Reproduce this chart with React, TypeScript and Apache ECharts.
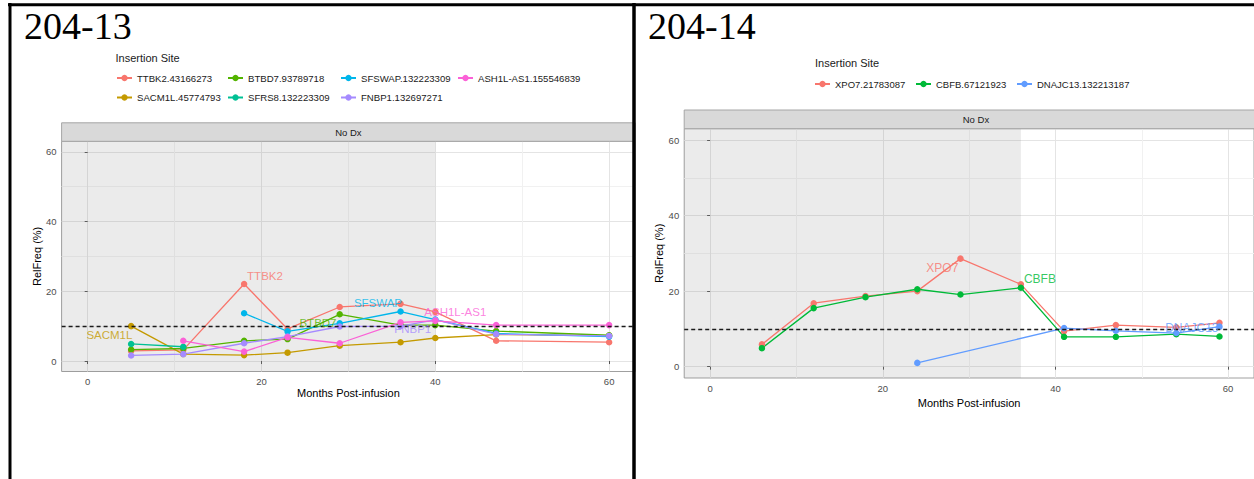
import React, { useEffect, useRef } from "react";
import * as echarts from "echarts";

const FONT = "'Liberation Sans', Arial, Helvetica, sans-serif";
const SERIF = "'Liberation Serif', 'Times New Roman', serif";

// ---------- Panel 204-13 ----------
const genes13 = [
  "TTBK2.43166273",
  "SACM1L.45774793",
  "BTBD7.93789718",
  "SFRS8.132223309",
  "SFSWAP.132223309",
  "FNBP1.132697271",
  "ASH1L-AS1.155546839",
];
const colors13 = ["#F8766D", "#C49A00", "#53B400", "#00C094", "#00B6EB", "#A58AFF", "#FB61D7"];
const months13 = [5, 11, 18, 23, 29, 36, 40, 47, 60];
const ttbk2_13 = [2.9, 3.2, 22.1, 9.2, 15.5, 16.4, 14.1, 5.8, 5.4];
const sacm1l_13 = [10.0, 2.0, 1.7, 2.4, 4.4, 5.4, 6.6, 7.6, 7.3];
const btbd7_13 = [3.3, 3.6, 5.8, 6.3, 13.4, 10.3, 10.3, 8.6, 7.4];
const sfrs8_13 = [4.9, 4.1, null, null, null, null, null, null, null];
const sfswap_13 = [null, null, 13.7, 8.5, 10.8, 14.2, 11.9, 7.9, 7.0];
const fnbp1_13 = [1.6, 2.0, 5.1, 7.0, 9.9, 10.0, 11.8, 7.7, 7.2];
const ash1l_13 = [null, 5.8, 2.7, 6.8, 5.1, 11.1, 11.5, 10.3, 10.3];
const values13 = [ttbk2_13, sacm1l_13, btbd7_13, sfrs8_13, sfswap_13, fnbp1_13, ash1l_13];

const labelText13 = ["TTBK2", "SACM1L", "BTBD7", "SFSWAP", "ASH1L-AS1", "FNBP1"];
const labelGene13 = [0, 1, 2, 4, 6, 5];
const labelX13 = [20.4, 2.5, 26.5, 33.4, 42.3, 37.4];
const labelY13 = [24.4, 7.5, 11.0, 16.7, 14.1, 9.1];
const shadeEnd13 = 40;

// ---------- Panel 204-14 ----------
const genes14 = ["XPO7.21783087", "CBFB.67121923", "DNAJC13.132213187"];
const colors14 = ["#F8766D", "#00BA38", "#619CFF"];
const months14 = [6, 12, 18, 24, 29, 36, 41, 47, 54, 59];
const xpo7_14 = [5.9, 16.8, 18.7, 20.0, 28.6, 21.8, 9.4, 11.0, 10.4, 11.6];
const cbfb_14 = [4.9, 15.5, 18.4, 20.5, 19.1, 20.9, 7.9, 7.9, 8.6, 8.0];
const dnajc13_14 = [null, null, null, 1.0, null, null, 10.2, 9.5, 8.9, 10.6];
const values14 = [xpo7_14, cbfb_14, dnajc13_14];

const labelText14 = ["XPO7", "CBFB", "DNAJC13"];
const labelGene14 = [0, 1, 2];
const labelX14 = [26.9, 38.2, 55.8];
const labelY14 = [26.1, 23.2, 10.3];
const shadeEnd14 = 36;

// ---------- shared axis values ----------
const majorTicks = [0, 20, 40, 60];
const gridTicks = [0, 10, 20, 30, 40, 50, 60];
const axisMin = -3;
const axisMax = 63;
const threshold = 10;

// ---------- layout (pixels) ----------
const grids = [
  { left: 61.6, top: 141.3, width: 573.6, height: 230.2 },
  { left: 684.2, top: 128.7, width: 583.5, height: 249.3 },
];
const legendPos13 = [
  [116, 72], [116, 91.5], [227, 72], [227, 91.5], [340, 72], [340, 91.5], [457, 72],
];
const legendPos14 = [[814, 78], [915, 78], [1016, 78]];

function pairs(months: number[], vals: (number | null)[]) {
  const out: number[][] = [];
  months.forEach((m, i) => {
    const v = vals[i];
    if (v !== null && v !== undefined) out.push([m, v]);
  });
  return out;
}

function xAxesFor(gridIndex: number, nameGap: number) {
  return [
    {
      type: "value",
      gridIndex,
      min: axisMin,
      max: axisMax,
      position: "bottom",
      name: "Months Post-infusion",
      nameLocation: "middle",
      nameGap,
      nameTextStyle: { color: "#000", fontSize: 11, fontFamily: FONT },
      axisLine: { show: false },
      axisTick: { show: false, customValues: gridTicks },
      axisLabel: { customValues: majorTicks, margin: 5, color: "#4d4d4d", fontSize: 9.5, fontFamily: FONT },
      splitLine: { show: true, lineStyle: { color: ["#e4e4e4", "#f1f1f1"], width: 1 } },
    },
    {
      type: "value",
      gridIndex,
      min: axisMin,
      max: axisMax,
      position: "bottom",
      axisLine: { show: false },
      axisTick: { show: true, customValues: majorTicks, length: 3, lineStyle: { color: "#555", width: 1 } },
      axisLabel: { show: false },
      splitLine: { show: false },
    },
  ];
}

function yAxesFor(gridIndex: number, nameGap: number) {
  return [
    {
      type: "value",
      gridIndex,
      min: axisMin,
      max: axisMax,
      position: "left",
      name: "RelFreq (%)",
      nameLocation: "middle",
      nameGap,
      nameRotate: 90,
      nameTextStyle: { color: "#000", fontSize: 11, fontFamily: FONT },
      axisLine: { show: false },
      axisTick: { show: false, customValues: gridTicks },
      axisLabel: { customValues: majorTicks, margin: 5, color: "#4d4d4d", fontSize: 9.5, fontFamily: FONT },
      splitLine: { show: true, lineStyle: { color: ["#e4e4e4", "#f1f1f1"], width: 1 } },
    },
    {
      type: "value",
      gridIndex,
      min: axisMin,
      max: axisMax,
      position: "left",
      axisLine: { show: false },
      axisTick: { show: true, customValues: majorTicks, length: 3, lineStyle: { color: "#555", width: 1 } },
      axisLabel: { show: false },
      splitLine: { show: false },
    },
  ];
}

function panelSeries(
  genes: string[],
  colors: string[],
  months: number[],
  values: (number | null)[][],
  axisIndex: number,
  shadeEnd: number
) {
  return genes.map((g, i) => {
    const s: any = {
      type: "line",
      name: g,
      xAxisIndex: axisIndex,
      yAxisIndex: axisIndex,
      data: pairs(months, values[i]),
      symbol: "circle",
      symbolSize: 6.5,
      itemStyle: { color: colors[i] },
      lineStyle: { color: colors[i], width: 1.3 },
      silent: true,
      z: 3,
    };
    if (i === 0) {
      s.markArea = {
        silent: true,
        itemStyle: { color: "rgba(128,128,128,0.16)" },
        data: [[{ xAxis: axisMin }, { xAxis: shadeEnd }]],
      };
      s.markLine = {
        silent: true,
        symbol: "none",
        label: { show: false },
        lineStyle: { color: "#1a1a1a", type: [4, 3], width: 1.3 },
        data: [{ yAxis: threshold }],
      };
    }
    return s;
  });
}

function labelSeries(
  texts: string[],
  geneIdx: number[],
  xs: number[],
  ys: number[],
  colors: string[],
  axisIndex: number,
  fontSize: number
) {
  return {
    type: "scatter",
    xAxisIndex: axisIndex,
    yAxisIndex: axisIndex,
    symbolSize: 0,
    silent: true,
    z: 5,
    itemStyle: { color: "rgba(0,0,0,0)" },
    label: {
      show: true,
      position: "inside",
      formatter: (p: any) => p.name,
      fontSize,
      fontFamily: FONT,
    },
    data: texts.map((t, i) => ({
      name: t,
      value: [xs[i], ys[i]],
      label: { color: colors[geneIdx[i]] },
    })),
  };
}

function legends(genes: string[], pos: number[][], fontSize: number) {
  return genes.map((g, i) => ({
    data: [g],
    left: pos[i][0],
    top: pos[i][1],
    orient: "horizontal",
    padding: 0,
    itemWidth: 15,
    itemHeight: 8,
    selectedMode: false,
    textStyle: { fontSize, color: "#1a1a1a", fontFamily: FONT, lineHeight: 12 },
  }));
}

function stripGraphic(g: { left: number; top: number; width: number }, stripTop: number) {
  return [
    {
      type: "rect",
      shape: { x: g.left, y: stripTop, width: g.width, height: g.top - stripTop },
      style: { fill: "#d9d9d9", stroke: "#a6a6a6", lineWidth: 1 },
      z: 10,
    },
    {
      type: "text",
      x: g.left + g.width / 2,
      y: (stripTop + g.top) / 2,
      style: {
        text: "No Dx",
        fill: "#1a1a1a",
        font: `9.5px ${FONT}`,
        textAlign: "center",
        textVerticalAlign: "middle",
      },
      z: 11,
    },
  ];
}

export default function App() {
  const ref = useRef<HTMLDivElement>(null);
  useEffect(() => {
    if (!ref.current) return;
    const chart = echarts.init(ref.current, undefined, { renderer: "svg" });
    const option: any = {
      animation: false,
      textStyle: { fontFamily: FONT },
      grid: grids.map((g) => ({
        ...g,
        show: true,
        borderColor: "#a0a0a0",
        borderWidth: 1,
        backgroundColor: "transparent",
        containLabel: false,
      })),
      xAxis: [...xAxesFor(0, 16), ...xAxesFor(1, 10)],
      yAxis: [...yAxesFor(0, 19), ...yAxesFor(1, 18.5)],
      legend: [...legends(genes13, legendPos13, 9.6), ...legends(genes14, legendPos14, 9.5)],
      series: [
        ...panelSeries(genes13, colors13, months13, values13, 0, shadeEnd13),
        labelSeries(labelText13, labelGene13, labelX13, labelY13, colors13, 0, 11.5),
        ...panelSeries(genes14, colors14, months14, values14, 2, shadeEnd14),
        labelSeries(labelText14, labelGene14, labelX14, labelY14, colors14, 2, 12),
      ],
      graphic: [
        ...stripGraphic(grids[0], 122.8),
        ...stripGraphic(grids[1], 110),
        {
          type: "text",
          x: 115.5,
          y: 58.3,
          style: { text: "Insertion Site", fill: "#1a1a1a", font: `11px ${FONT}`, textVerticalAlign: "middle" },
        },
        {
          type: "text",
          x: 815,
          y: 63,
          style: { text: "Insertion Site", fill: "#1a1a1a", font: `11px ${FONT}`, textVerticalAlign: "middle" },
        },
        {
          type: "text",
          x: 24,
          y: 25.5,
          style: { text: "204-13", fill: "#000", font: `38px ${SERIF}`, textVerticalAlign: "middle" },
          z: 20,
        },
        {
          type: "text",
          x: 648,
          y: 25.5,
          style: { text: "204-14", fill: "#000", font: `38px ${SERIF}`, textVerticalAlign: "middle" },
          z: 20,
        },
        {
          type: "line",
          shape: { x1: 8, y1: 4.7, x2: 1254, y2: 4.7 },
          style: { stroke: "#000", lineWidth: 3 },
          z: 30,
        },
        {
          type: "line",
          shape: { x1: 10, y1: 3, x2: 10, y2: 479 },
          style: { stroke: "#000", lineWidth: 3 },
          z: 30,
        },
        {
          type: "line",
          shape: { x1: 634, y1: 3, x2: 634, y2: 479 },
          style: { stroke: "#000", lineWidth: 3.5 },
          z: 30,
        },
      ],
    };
    chart.setOption(option);
    return () => chart.dispose();
  }, []);
  return (
    <div
      ref={ref}
      style={{ position: "absolute", left: 0, top: 0, width: 1254, height: 479, background: "#fff" }}
    />
  );
}
